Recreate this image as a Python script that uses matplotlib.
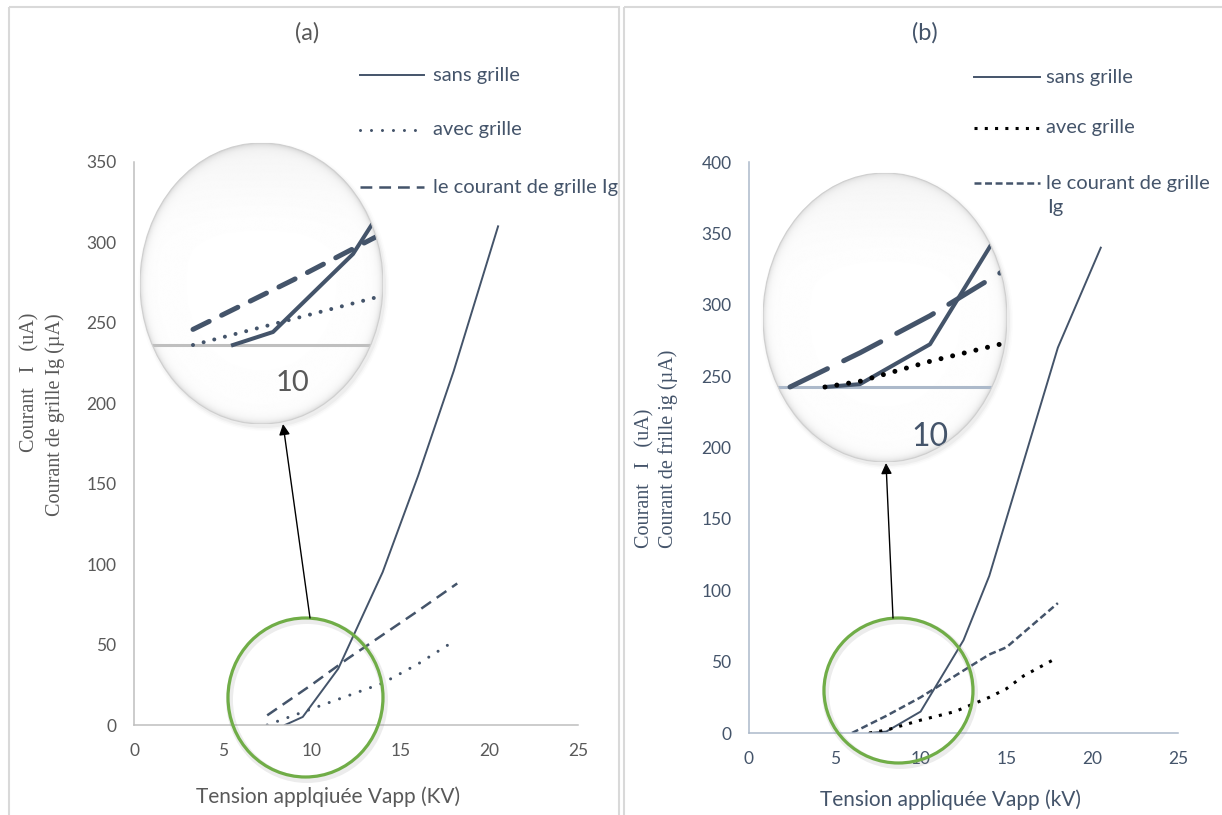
import numpy as np
import matplotlib.pyplot as plt
from matplotlib.patches import Ellipse, Rectangle, FancyArrowPatch
from matplotlib.lines import Line2D

W, H = 1222, 815
plt.rcParams['lines.scale_dashes'] = False
plt.rcParams['font.family'] = ['Lato', 'DejaVu Sans']

SLATE = '#44546A'
GREY_TXT = '#595959'

# --- measurements, panel (a): without / with grid, grid current ---
va_sans = [8.5, 9.5, 11.5, 14, 16, 18, 20.5]
ia_sans = [0, 5, 35, 95, 155, 220, 310]
va_avec = [7.5, 10, 12, 14, 16, 18]
ia_avec = [0, 10, 18, 26, 38, 52]
va_grille = [7.5, 10, 12, 14, 16, 18.2]
ia_grille = [6, 25, 41, 56, 71, 88]

# --- measurements, panel (b) ---
vb_sans = [7, 8, 10, 12.5, 14, 18, 20.5]
ib_sans = [0, 1, 15, 65, 110, 270, 340]
vb_avec = [7, 8, 10, 12, 14, 15, 16, 18]
ib_avec = [0, 2, 9, 15, 25, 31, 40, 53]
vb_grille = [6, 8, 10, 12, 14, 15, 18]
ib_grille = [0, 12, 25, 40, 55, 60, 91]

x_ticks = [0, 5, 10, 15, 20, 25]
labels = ['sans grille', 'avec grille', 'le courant de grille Ig']


def px_box(x0, y0, x1, y1):
    """pixel box (top-left origin) -> figure fraction rect"""
    return [x0 / W, 1 - y1 / H, (x1 - x0) / W, (y1 - y0) / H]


# line styles: main chart, legend sample and magnified view
sty_a = {
    'sans': dict(color=SLATE, lw=1.4, ls='-'),
    'avec': dict(color=SLATE, lw=2.2, ls=(0, (0.01, 7.9)), dash_capstyle='round'),
    'grille': dict(color=SLATE, lw=1.8, ls=(0, (8.5, 5.0))),
}
sty_b = {
    'sans': dict(color=SLATE, lw=1.4, ls='-'),
    'avec': dict(color='black', lw=2.2, ls=(0, (2.2, 5.2))),
    'grille': dict(color=SLATE, lw=1.8, ls=(0, (5.0, 2.6))),
}
zoom_a = {
    'sans': dict(color=SLATE, lw=2.9, ls='-'),
    'avec': dict(color=SLATE, lw=2.9, ls=(0, (0.01, 7.9)), dash_capstyle='round'),
    'grille': dict(color=SLATE, lw=3.6, ls=(0, (13, 10)), dash_capstyle='round'),
}
zoom_b = {
    'sans': dict(color=SLATE, lw=2.9, ls='-'),
    'avec': dict(color='black', lw=3.6, ls=(0, (0.01, 8.6)), dash_capstyle='round'),
    'grille': dict(color=SLATE, lw=3.6, ls=(0, (30, 13)), dash_capstyle='round'),
}

fig = plt.figure(figsize=(W / 100, H / 100), dpi=100)


def main_axes(box, ymax, series, styles, axis_col, tick_col, xlabel, lab_xy):
    ax = fig.add_axes(px_box(*box), zorder=1)
    for (x, y), key in zip(series, ['sans', 'avec', 'grille']):
        ax.plot(x, y, **styles[key])
    ax.set_xlim(0, 25)
    ax.set_ylim(0, ymax)
    ax.set_xticks(x_ticks)
    ax.set_yticks(np.arange(0, ymax + 1, 50))
    for s in ['top', 'right']:
        ax.spines[s].set_visible(False)
    for s in ['left', 'bottom']:
        ax.spines[s].set_color(axis_col)
        ax.spines[s].set_linewidth(1.1)
    ax.tick_params(length=0, labelsize=12.5, labelcolor=tick_col)
    ax.tick_params(axis='y', pad=12.5)
    ax.tick_params(axis='x', pad=13)
    ax.set_xlabel(xlabel, fontsize=15, color=tick_col, va='center')
    bx0, by0, bx1, by1 = box
    ax.xaxis.set_label_coords((lab_xy[0] - bx0) / (bx1 - bx0),
                              (by1 - lab_xy[1]) / (by1 - by0))
    return ax


ax_a = main_axes((134, 162, 578, 725), 350,
                 [(va_sans, ia_sans), (va_avec, ia_avec), (va_grille, ia_grille)],
                 sty_a, '#BFBFBF', GREY_TXT,
                 'Tension applqiuée Vapp (KV)', (328, 797))
ax_b = main_axes((749, 162, 1178, 733), 400,
                 [(vb_sans, ib_sans), (vb_avec, ib_avec), (vb_grille, ib_grille)],
                 sty_b, '#ACB9CA', SLATE,
                 'Tension appliquée Vapp (kV)', (950, 800))

# overlay in pixel coordinates for frames, circles, arrows and text
ov = fig.add_axes([0, 0, 1, 1], zorder=2)
ov.set_xlim(0, W)
ov.set_ylim(H, 0)
ov.axis('off')

for x0, x1 in [(9, 619), (624, 1240)]:
    ov.add_patch(Rectangle((x0, 7), x1 - x0, 840, fill=False,
                           ec='#D9D9D9', lw=1.5))

ov.text(307, 33, '(a)', fontsize=17, color=GREY_TXT, ha='center', va='center')
ov.text(925, 33, '(b)', fontsize=17, color=SLATE, ha='center', va='center')

# y labels (serif, two lines)
serif = dict(family='Liberation Serif', fontsize=14.5, rotation=90, ha='center')
ov.text(30, 313, 'Courant   I   (uA)', color=GREY_TXT, va='top', **serif)
ov.text(55, 313, 'Courant de grille Ig (µA)', color=GREY_TXT, va='top', **serif)
ov.text(645, 548, 'Courant   I   (uA)', color=SLATE, va='bottom', **serif)
ov.text(668, 548, 'Courant de frille ig (µA)', color=SLATE, va='bottom', **serif)

# legends
for (y, key, lab) in zip([75, 130, 187], ['sans', 'avec', 'grille'], labels):
    ov.add_line(Line2D([360, 424], [y, y], **sty_a[key]))
    ov.text(433, y, lab, fontsize=14.5, color=SLATE, va='center')
for (y, key, lab) in zip([77, 128, 183], ['sans', 'avec', 'grille'],
                         ['sans grille', 'avec grille', 'le courant de grille']):
    ov.add_line(Line2D([974, 1040], [y, y], **sty_b[key]))
    ov.text(1046, y, lab, fontsize=14.5, color=SLATE, va='center')
ov.text(1047, 208, 'Ig', fontsize=14.5, color=SLATE, va='center')

# green circles around the onset region
for (cx, cy, w, h) in [(305.5, 697.5, 155, 159), (898.5, 690.5, 149, 145)]:
    ov.add_patch(Ellipse((cx + 1.5, cy + 2.5), w, h, fill=False,
                         ec='#808080', lw=5, alpha=0.15))
    ov.add_patch(Ellipse((cx, cy), w, h, fill=False, ec='#70AD47', lw=2.3))

# arrows to the magnified views
for p0, p1 in [((310, 618), (283, 424)), ((893, 618), (886, 463))]:
    ov.add_patch(FancyArrowPatch(p0, p1, arrowstyle='-|>', mutation_scale=16,
                                 color='black', lw=1.0, shrinkA=0, shrinkB=0))

# soft shadow under the bubbles
for (x0, y0, x1, y1) in [(140, 143, 383, 424), (763, 173, 1007, 462)]:
    cx, cy = (x0 + x1) / 2, (y0 + y1) / 2
    for k, a in enumerate([0.07, 0.04, 0.02]):
        ov.add_patch(Ellipse((cx + 2, cy + 3), x1 - x0 + 2 + 3 * k,
                             y1 - y0 + 2 + 3 * k, fc='#7f7f7f', ec='none',
                             alpha=a))


def bubble(box, x10, sx, y0px, sy, series, styles, axis_col, txt_col,
           lab_y, lab_size):
    bx0, by0, bx1, by1 = box
    ax = fig.add_axes(px_box(*box), zorder=4)
    xl = (10 + (bx0 - x10) / sx, 10 + (bx1 - x10) / sx)
    yl = ((y0px - by1) / sy, (y0px - by0) / sy)
    ax.axis('off')
    ell = Ellipse((0.5, 0.5), 1, 1, transform=ax.transAxes, fc='none',
                  ec='#CFCFCF', lw=0.8, zorder=5)
    ax.add_patch(ell)
    u = np.linspace(0, 1, 300)
    U, V = np.meshgrid(u, u)
    r = np.hypot((U - 0.5) / 0.5, (V - 0.5) / 0.5)
    top = np.clip((V - 0.6) / 0.4, 0, 1)
    shade = (1.0 - 0.01 * r ** 2 - 0.12 * r ** 40
             - 0.05 * top ** 2 * np.clip(1.05 - r, 0, 1) ** 0.2)
    im = ax.imshow(shade, extent=[xl[0], xl[1], yl[0], yl[1]], origin='lower',
                   cmap='gray', vmin=0, vmax=1, aspect='auto', zorder=0)
    im.set_clip_path(ell)
    hl = ax.axhline(0, color=axis_col, lw=2.2, zorder=1)
    hl.set_clip_path(ell)
    for (x, y), key in zip(series, ['sans', 'avec', 'grille']):
        ln, = ax.plot(x, y, zorder=2, **styles[key])
        ln.set_clip_path(ell)
    t = ax.text(10, lab_y, '10', fontsize=lab_size, color=txt_col,
                ha='center', va='center', zorder=3)
    t.set_clip_path(ell)
    ax.set_xlim(*xl)
    ax.set_ylim(*yl)
    return ax


bubble((140, 143, 383, 424), 293, 40, 345, 2.6,
       [(va_sans, ia_sans), (va_avec, ia_avec), (va_grille, ia_grille)],
       zoom_a, '#BFBFBF', GREY_TXT, -14.5, 21)
bubble((763, 173, 1007, 462), 930, 35, 387, 2.85,
       [(vb_sans, ib_sans), (vb_avec, ib_avec), (vb_grille, ib_grille)],
       zoom_b, '#ACB9CA', SLATE, -17.5, 23)

fig.savefig('out.png', dpi=100, facecolor='white')
